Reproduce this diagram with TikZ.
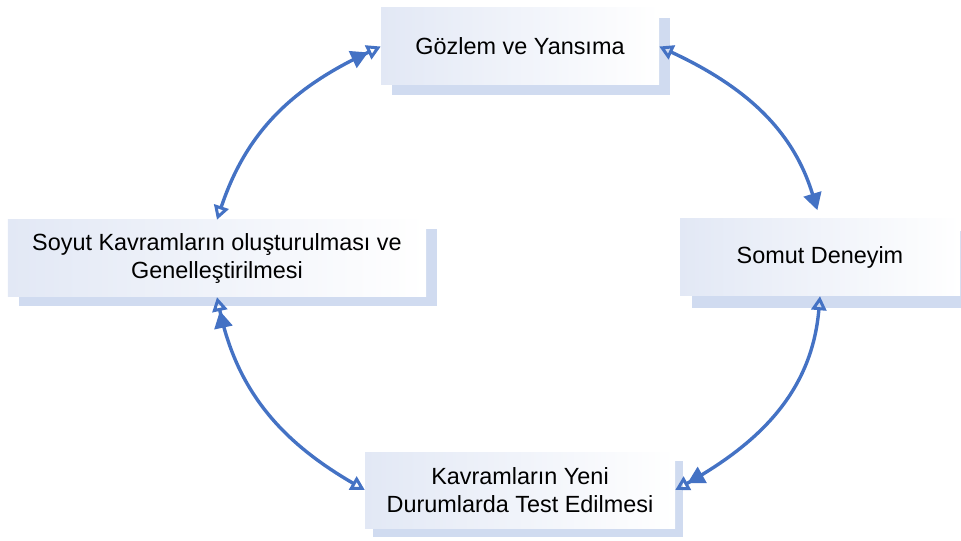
\documentclass[tikz,border=0pt]{standalone}
\usepackage{fontspec}
\setmainfont{Liberation Sans}
\usetikzlibrary{arrows.meta,shadows}
\definecolor{arcblue}{RGB}{68,114,196}
\definecolor{boxtint}{RGB}{226,232,245}
\definecolor{shadowblue}{RGB}{208,219,240}
\tikzset{
  Hol/.tip={Triangle[open, length=14bp, width=15bp, line width=3bp]},
  Sol/.tip={Triangle[length=17bp, width=18bp]}
}
\begin{document}
\begin{tikzpicture}[x=1bp,y=-1bp,
  stage/.style={rectangle, inner sep=0pt, align=center,
    font=\fontsize{23.5}{28}\selectfont,
    left color=boxtint, right color=white},
  stageshadow/.style 2 args={general shadow={fill=shadowblue,
    shadow xshift=#1, shadow yshift=#2}},
  cyc/.style={line width=3.4bp, draw=arcblue}
]
\useasboundingbox (0,0) rectangle (961,541);

% the four stages of the cycle
\node[stage, stageshadow={11bp}{-10bp}, minimum width=278bp, minimum height=77bp]
  (top) at (520,46.5) {Gözlem ve Yansıma};
\node[stage, stageshadow={12bp}{-12bp}, minimum width=280bp, minimum height=77bp]
  (som) at (820,257.5) {Somut Deneyim};
\node[stage, stageshadow={11bp}{-9bp}, minimum width=418bp, minimum height=77bp]
  (lft) at (217,258.5) {Soyut Kavramların oluşturulması ve\\Genelleştirilmesi};
\node[stage, stageshadow={8bp}{-9bp}, minimum width=310bp, minimum height=76bp]
  (bot) at (520,490) {Kavramların Yeni\\Durumlarda Test Edilmesi};

% curved connectors between the stages
\draw[cyc, {Hol[]}-{Sol[]Hol[]}]
  (lft.north) .. controls +(30,-90) and +(-86,40) .. (top.west);
\draw[cyc, {Hol[]}-{Sol[]}, shorten >=9bp]
  (top.east) .. controls +(86,40) and +(-27,-89) .. (som.north);
\draw[cyc, {Hol[]}-{Sol[]Hol[]}]
  (som.south) .. controls +(-8,94) and +(86,-48) .. (bot.east);
\draw[cyc, {Hol[]}-{Sol[]Hol[]}]
  (bot.west) .. controls +(-83,-48) and +(20,94) .. (lft.south);
\end{tikzpicture}
\end{document}
